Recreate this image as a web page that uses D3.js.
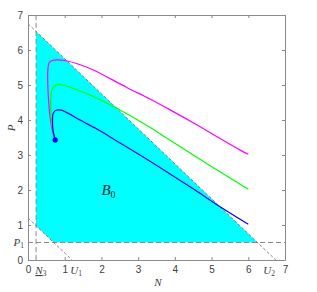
<!DOCTYPE html>
<html><head><meta charset="utf-8">
<script src="https://cdn.jsdelivr.net/npm/d3@7"></script>
<style>body{margin:0;background:#fff}svg{display:block}</style>
</head><body>
<svg id="c" width="317" height="292"></svg>
<script>
// ---- data ----
const xTicks = [0,1,2,3,4,5,6,7];
const yTicks = [0,1,2,3,4,5,6,7];
const N3 = 0.22, U1 = 1.2, U2 = 6.75, P1 = 0.5;
const regionN = [0.22, 0.22, 0.70, 6.25];
const regionP = [6.53, 0.98, 0.50, 0.50];
const startN = 0.74, startP = 3.43;
const blueN = [0.74,0.68,0.668,0.68,0.736,0.817,0.899,1.008,1.417,1.962,2.324,2.779,3.324,3.869,4.55,5.232,6.0];
const blueP = [3.43,3.71,4.0,4.17,4.26,4.29,4.28,4.24,4.0,3.69,3.46,3.17,2.82,2.46,2.0,1.52,1.02];
const greenN = [0.74,0.68,0.64,0.62,0.62,0.65,0.72,0.82,0.95,1.42,1.78,2.69,3.32,3.87,4.5,5.23,6.0];
const greenP = [3.43,3.7,4.0,4.3,4.6,4.85,4.97,5.01,5.0,4.83,4.67,4.18,3.79,3.42,3.0,2.52,2.02];
const magN = [0.74,0.66,0.6,0.56,0.54,0.54,0.57,0.66,0.8,1.0,1.42,1.78,2.69,3.32,3.87,4.5,5.2,5.78,6.0];
const magP = [3.43,3.71,4.1,4.57,5.0,5.4,5.62,5.7,5.72,5.7,5.58,5.43,4.93,4.60,4.29,3.92,3.49,3.14,3.02];

const svg = d3.select('#c');
const x = d3.scaleLinear().domain([0,7]).range([28,285]);
const y = d3.scaleLinear().domain([0,7]).range([260,15]);
const pts = (a,b) => a.map((v,i)=>[v,b[i]]);
const line = d3.line().x(d=>x(d[0])).y(d=>y(d[1]));

// region
svg.append('path').attr('d', line(pts(regionN,regionP))+'Z').attr('fill','#00ffff');

// dashed guide lines
const g = svg.append('g').attr('fill','none');
g.append('path').attr('d', line([[N3,0],[N3,7]])).attr('stroke','#8a8a8a').attr('stroke-width',1).attr('stroke-dasharray','5,3');
g.append('path').attr('d', line([[0,P1],[7,P1]])).attr('stroke','#8a8a8a').attr('stroke-width',1).attr('stroke-dasharray','5,3');
g.append('path').attr('d', line([[0,U2],[U2,0]])).attr('stroke','#666').attr('stroke-width',0.8).attr('stroke-dasharray','3,2');
g.append('path').attr('d', line([[0,U1],[U1,0]])).attr('stroke','#666').attr('stroke-width',0.8).attr('stroke-dasharray','3,2');

// trajectories
const cl = d3.line().x(d=>x(d[0])).y(d=>y(d[1])).curve(d3.curveCatmullRom.alpha(0.5));
[[magN,magP,'#ff00ff'],[greenN,greenP,'#00ff00'],[blueN,blueP,'#0000ff']].forEach(([a,b,c])=>{
  svg.append('path').attr('d', cl(pts(a,b))).attr('fill','none').attr('stroke',c).attr('stroke-width',1.2);
});
svg.append('circle').attr('cx',x(startN)).attr('cy',y(startP)).attr('r',2.6).attr('fill','#0000ff');

// axes
const ac = '#8a8a8a';
function styleAxis(sel){ sel.selectAll('path,line').attr('stroke',ac); sel.selectAll('text').attr('fill','#404040').style('font-family','Liberation Sans, Arial, sans-serif').style('font-size','10px'); }
svg.append('g').attr('transform','translate(0,260)').call(d3.axisBottom(x).tickValues(xTicks).tickSizeInner(-3).tickSizeOuter(0).tickPadding(6).tickFormat(d3.format('d'))).call(styleAxis);
svg.append('g').attr('transform','translate(0,15)').call(d3.axisTop(x).tickValues(xTicks).tickSizeInner(-3).tickSizeOuter(0).tickFormat('')).call(styleAxis);
svg.append('g').attr('transform','translate(28,0)').call(d3.axisLeft(y).tickValues(yTicks).tickSizeInner(-3).tickSizeOuter(0).tickPadding(5).tickFormat(d3.format('d'))).call(styleAxis);
svg.append('g').attr('transform','translate(285,0)').call(d3.axisRight(y).tickValues(yTicks).tickSizeInner(-3).tickSizeOuter(0).tickFormat('')).call(styleAxis);
svg.selectAll('.domain').attr('stroke',ac);

// special tick labels
const serif = 'Liberation Serif, Times New Roman, serif';
function subLabel(px, py, main, sub, anchor, underline){
  const t = svg.append('text').attr('x',px).attr('y',py).attr('text-anchor',anchor)
    .attr('fill','#404040').style('font-family',serif).style('font-size','11px');
  const m = t.append('tspan').style('font-style','italic').text(main);
  if(underline) m.attr('text-decoration','underline');
  t.append('tspan').attr('dy',2).style('font-size','7.5px').text(sub);
}
subLabel(x(0.35), 274, 'N', '3', 'middle', true);
subLabel(x(1.31), 274, 'U', '1', 'middle', false);
subLabel(x(6.57), 274, 'U', '2', 'middle', false);
subLabel(24, y(P1)+3, 'P', '1', 'end', false);

// axis titles
svg.append('text').attr('x',158).attr('y',286).attr('text-anchor','middle').attr('fill','#404040')
  .style('font-family',serif).style('font-style','italic').style('font-size','11px').text('N');
svg.append('text').attr('transform','translate(15,128) rotate(-90)').attr('text-anchor','middle').attr('fill','#404040')
  .style('font-family',serif).style('font-style','italic').style('font-size','11px').text('P');

// region label
const b = svg.append('text').attr('x',x(2.0)).attr('y',y(2.0)+5).attr('fill','#1a2a2a')
  .style('font-family',serif).style('font-size','15px');
b.append('tspan').style('font-style','italic').text('B');
b.append('tspan').attr('dy',3).style('font-size','10px').text('0');
</script>
</body></html>
